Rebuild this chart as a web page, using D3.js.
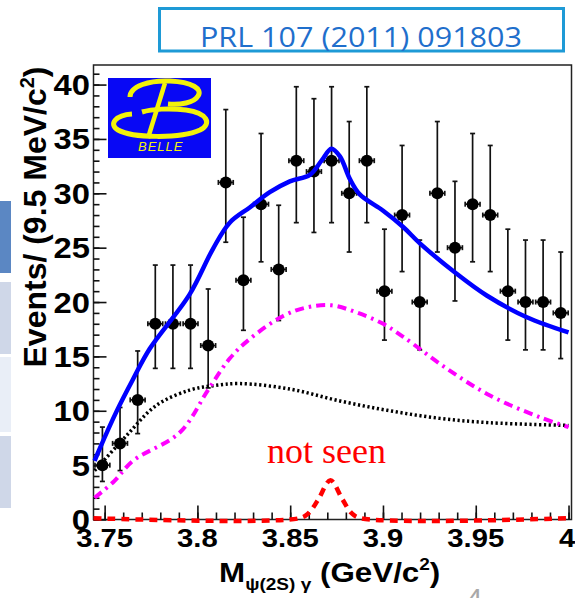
<!DOCTYPE html>
<html>
<head>
<meta charset="utf-8">
<script src="https://cdn.jsdelivr.net/npm/d3@7"></script>
<style>
  html, body { margin: 0; padding: 0; background: #fff; }
  svg { display: block; }
  .tick-label { font-family: "Liberation Sans", Arial, sans-serif; font-weight: bold; fill: #000; }
</style>
</head>
<body>
<div id="chart"></div>
<script>
// ============== Data ==============
const binCenters = [3.7488, 3.7583, 3.7678, 3.7773, 3.7868, 3.7963, 3.8058, 3.8153, 3.8248,
  3.8343, 3.8438, 3.8533, 3.8628, 3.8723, 3.8818, 3.8913, 3.9008, 3.9103, 3.9198,
  3.9293, 3.9388, 3.9483, 3.9578, 3.9673, 3.9768, 3.9863, 3.9958];
const counts = [5, 7, 11, 18, 18, 18, 16, 31, 22, 29, 23, 33, 32, 33, 30, 33, 21, 28, 20,
  30, 25, 29, 28, 21, 20, 20, 19];
const errLow = [3.5, 4.5, 7.9, 13.9, 13.9, 13.9, 12.1, 25.5, 17.4, 23.7, 18.3, 27.3, 26.4, 27.3,
  24.6, 27.3, 16.5, 22.8, 15.6, 24.6, 20.1, 23.7, 22.8, 16.5, 15.6, 15.6, 14.8];
const errHigh = [8.5, 10.3, 15.5, 23.4, 23.4, 23.4, 21.2, 37.7, 27.8, 35.5, 28.9, 39.8, 38.7, 39.8,
  36.6, 39.8, 26.7, 34.4, 25.7, 36.6, 31.1, 35.5, 34.4, 26.7, 25.7, 25.7, 24.6];
const binHalf = 0.004;

// total fit (blue)
const totalFit = [[3.7446, 5.4], [3.7473, 6.5], [3.7563, 9.9], [3.7653, 12.9], [3.7743, 15.7],
  [3.7958, 20.7], [3.8084, 24.9], [3.8174, 27.3], [3.8282, 28.7], [3.839, 30.1], [3.8498, 31.1],
  [3.8606, 31.7], [3.8669, 33.0], [3.8722, 34.1], [3.8768, 33.4], [3.8822, 31.3], [3.8875, 29.9],
  [3.9001, 28.4], [3.9109, 26.9], [3.9199, 25.4], [3.9397, 22.6], [3.9559, 20.6], [3.9775, 18.6],
  [4.0, 17.2]];
// magenta dash-dot component
const magentaComp = [[3.7446, 2.0], [3.755, 3.5], [3.7653, 5.4], [3.7905, 8.0], [3.8057, 11.9],
  [3.8174, 14.8], [3.8282, 16.6], [3.846, 18.7], [3.8588, 19.5], [3.8722, 19.7], [3.8857, 19.05],
  [3.9001, 18.0], [3.9109, 16.8], [3.9342, 13.9], [3.9577, 11.4], [3.9846, 9.4], [4.0, 8.5]];
// black dotted background
const bkgDotted = [[3.7446, 4.5], [3.7473, 5.0], [3.7617, 7.7], [3.7779, 10.5], [3.7958, 11.9],
  [3.8084, 12.3], [3.8228, 12.5], [3.8498, 12.0], [3.8768, 10.9], [3.9037, 10.0], [3.9307, 9.3],
  [3.9577, 8.9], [4.0, 8.65]];
// red dashed (X(3872), not seen)
const redDashed = [[3.744, 0.12], [3.855, 0.12], [3.86, 0.6], [3.865, 1.8], [3.8717, 3.6],
  [3.878, 1.9], [3.883, 0.6], [3.888, 0.12], [4.0, 0.12]];

const yTicks = [0, 5, 10, 15, 20, 25, 30, 35, 40];
const xTicks = [3.75, 3.8, 3.85, 3.9, 3.95, 4.0];
const xTickLabels = ['3.75', '3.8', '3.85', '3.9', '3.95', '4'];

// ============== SVG ==============
const W = 575, H = 598;
const svg = d3.select('#chart').append('svg')
  .attr('width', W)
  .attr('height', H);

const x = d3.scaleLinear().domain([3.744, 4.0016]).range([93.5, 571.5]);
const y = d3.scaleLinear().domain([0, 41.8]).range([519.5, 65]);

// ============== Slide decorations ==============
const strips = [[201, 273, '#5b87c3'], [282, 354, '#cfd7e8'], [357, 432, '#e9eef7'], [436, 508, '#cfd7e8']];
svg.selectAll('.strip')
  .data(strips)
  .enter().append('rect')
  .attr('class', 'strip')
  .attr('x', 0).attr('width', 11)
  .attr('y', d => d[0]).attr('height', d => d[1] - d[0])
  .attr('fill', d => d[2]);

svg.append('rect')
  .attr('x', 159.5).attr('y', 8.5)
  .attr('width', 404).attr('height', 42.5)
  .attr('fill', '#fff')
  .attr('stroke', '#1e9ad6')
  .attr('stroke-width', 3);

svg.append('text')
  .text('PRL 107 (2011) 091803')
  .attr('x', 200).attr('y', 47)
  .attr('textLength', 322)
  .attr('lengthAdjust', 'spacingAndGlyphs')
  .style('font-family', '"Open Sans", sans-serif')
  .style('font-size', '27px')
  .style('fill', '#1f6fcc');

svg.append('text')
  .text('4')
  .attr('x', 465).attr('y', 611)
  .style('font-family', '"Open Sans", sans-serif')
  .style('font-size', '31px')
  .style('fill', '#a8a8a8');

// ============== Frame ==============
svg.append('rect')
  .attr('x', x.range()[0]).attr('y', y.range()[1])
  .attr('width', x.range()[1] - x.range()[0])
  .attr('height', y.range()[0] - y.range()[1])
  .attr('fill', 'none')
  .attr('stroke', '#222')
  .attr('stroke-width', 1.5);

// ============== Axes (ROOT style, ticks inward) ==============
const yAxisMinor = d3.axisRight(y).tickValues(d3.range(0, 42, 1)).tickSize(6).tickFormat('');
svg.append('g').attr('transform', `translate(${x.range()[0]},0)`).call(yAxisMinor);
const yAxisMajor = d3.axisRight(y).tickValues(yTicks).tickSize(13).tickFormat('');
svg.append('g').attr('transform', `translate(${x.range()[0]},0)`).call(yAxisMajor);

const xAxisMinor = d3.axisTop(x).tickValues(d3.range(3.75, 4.001, 0.01)).tickSize(7).tickFormat('');
svg.append('g').attr('transform', `translate(0,${y.range()[0]})`).call(xAxisMinor);
const xAxisMajor = d3.axisTop(x).tickValues(xTicks).tickSize(14).tickFormat('');
svg.append('g').attr('transform', `translate(0,${y.range()[0]})`).call(xAxisMajor);

svg.selectAll('.domain').remove();
svg.selectAll('.tick line').attr('stroke', '#111').attr('stroke-width', 1.6);

// tick labels
svg.selectAll('.ylab')
  .data(yTicks)
  .enter().append('text')
  .attr('class', 'tick-label ylab')
  .attr('transform', d => `translate(90,${y(d) + 10.5}) scale(1.13,1)`)
  .attr('text-anchor', 'end')
  .style('font-size', '29px')
  .text(d => d);

svg.selectAll('.xlab')
  .data(xTicks)
  .enter().append('text')
  .attr('class', 'tick-label xlab')
  .attr('transform', (d, i) => `translate(${x(d) - (i === xTicks.length - 1 ? 1.5 : 0)},547) scale(1.17,1)`)
  .attr('text-anchor', 'middle')
  .style('font-size', '25px')
  .text((d, i) => xTickLabels[i]);

// axis titles
const yTitle = svg.append('text')
  .attr('class', 'tick-label')
  .attr('transform', 'translate(46,217) rotate(-90)')
  .attr('text-anchor', 'middle')
  .style('font-size', '32px');
yTitle.append('tspan').text('Events/ (9.5 MeV/c');
yTitle.append('tspan').text('2').style('font-size', '20px').attr('dy', -12);
yTitle.append('tspan').text(')').attr('dy', 12);

const xTitle = svg.append('text')
  .attr('class', 'tick-label')
  .attr('transform', 'translate(219,582) scale(1.12,1)')
  .style('font-size', '28px');
xTitle.append('tspan').text('M');
xTitle.append('tspan').text('\u03c8(2S) \u03b3').style('font-size', '17px').attr('dy', 8);
xTitle.append('tspan').text(' (GeV/c').attr('dy', -8);
xTitle.append('tspan').text('2').style('font-size', '17px').attr('dy', -12);
xTitle.append('tspan').text(')').attr('dy', 12);

// ============== Belle logo ==============
const logo = svg.append('g').attr('transform', 'translate(108,78)');
logo.append('rect').attr('width', 103).attr('height', 80).attr('fill', '#0808f5');
const yel = '#f2f20a';
logo.append('path')
  .attr('d', 'M 22,19 C 22,8 42,2 62,3 C 84,4 95,11 90,18 C 86,25 72,27 60,26')
  .attr('fill', 'none').attr('stroke', yel).attr('stroke-width', 5);
logo.append('path')
  .attr('d', 'M 57,5 L 40,60')
  .attr('fill', 'none').attr('stroke', yel).attr('stroke-width', 4.5);
logo.append('path')
  .attr('d', 'M 24,36 C 8,37 0,46 10,52 C 24,60 72,61 92,52 C 104,46 100,35 78,32 C 62,30 44,31 34,34')
  .attr('fill', 'none').attr('stroke', yel).attr('stroke-width', 5);
logo.append('text')
  .text('BELLE')
  .attr('x', 30).attr('y', 73)
  .style('font-family', '"Liberation Sans", Arial, sans-serif')
  .style('font-style', 'italic')
  .style('font-size', '13px')
  .style('letter-spacing', '1px')
  .style('fill', yel);

// ============== Data points ==============
const points = binCenters.map((c, i) => ({x: c, v: counts[i], lo: errLow[i], hi: errHigh[i]}));
const pts = svg.append('g').attr('class', 'points');
pts.selectAll('.ebar-v')
  .data(points).enter().append('line')
  .attr('x1', d => x(d.x)).attr('x2', d => x(d.x))
  .attr('y1', d => y(d.lo)).attr('y2', d => y(d.hi))
  .attr('stroke', '#111').attr('stroke-width', 1.7);
pts.selectAll('.cap-hi')
  .data(points).enter().append('line')
  .attr('x1', d => x(d.x) - 2.5).attr('x2', d => x(d.x) + 2.5)
  .attr('y1', d => y(d.hi)).attr('y2', d => y(d.hi))
  .attr('stroke', '#111').attr('stroke-width', 1.7);
pts.selectAll('.cap-lo')
  .data(points).enter().append('line')
  .attr('x1', d => x(d.x) - 2.5).attr('x2', d => x(d.x) + 2.5)
  .attr('y1', d => y(d.lo)).attr('y2', d => y(d.lo))
  .attr('stroke', '#111').attr('stroke-width', 1.7);
pts.selectAll('.ebar-h')
  .data(points).enter().append('line')
  .attr('x1', d => x(d.x - binHalf)).attr('x2', d => x(d.x + binHalf))
  .attr('y1', d => y(d.v)).attr('y2', d => y(d.v))
  .attr('stroke', '#111').attr('stroke-width', 1.7);
pts.selectAll('.cap-l')
  .data(points).enter().append('line')
  .attr('x1', d => x(d.x - binHalf)).attr('x2', d => x(d.x - binHalf))
  .attr('y1', d => y(d.v) - 2.5).attr('y2', d => y(d.v) + 2.5)
  .attr('stroke', '#111').attr('stroke-width', 1.7);
pts.selectAll('.cap-r')
  .data(points).enter().append('line')
  .attr('x1', d => x(d.x + binHalf)).attr('x2', d => x(d.x + binHalf))
  .attr('y1', d => y(d.v) - 2.5).attr('y2', d => y(d.v) + 2.5)
  .attr('stroke', '#111').attr('stroke-width', 1.7);
pts.selectAll('circle')
  .data(points).enter().append('circle')
  .attr('cx', d => x(d.x)).attr('cy', d => y(d.v))
  .attr('r', 6)
  .attr('fill', '#000');

// ============== Fit curves ==============
const line = d3.line()
  .x(d => x(d[0]))
  .y(d => y(d[1]))
  .curve(d3.curveCatmullRom.alpha(0.5));

const curves = [
  {data: bkgDotted, color: '#000', width: 3.5, dash: '2.2,2.6'},
  {data: magentaComp, color: '#ff00ff', width: 4, dash: '9,5,2.5,5'},
  {data: redDashed, color: '#ff0000', width: 4.5, dash: '8,6'},
  {data: totalFit, color: '#0000ff', width: 4.5, dash: null}
];
svg.selectAll('.fit')
  .data(curves).enter().append('path')
  .attr('class', 'fit')
  .attr('d', d => line(d.data))
  .attr('fill', 'none')
  .attr('stroke', d => d.color)
  .attr('stroke-width', d => d.width)
  .attr('stroke-dasharray', d => d.dash);

svg.append('text')
  .text('not seen')
  .attr('x', 267).attr('y', 463)
  .style('font-family', '"Liberation Serif", "Times New Roman", serif')
  .style('font-size', '36px')
  .style('fill', '#ff0000');
</script>
</body>
</html>
